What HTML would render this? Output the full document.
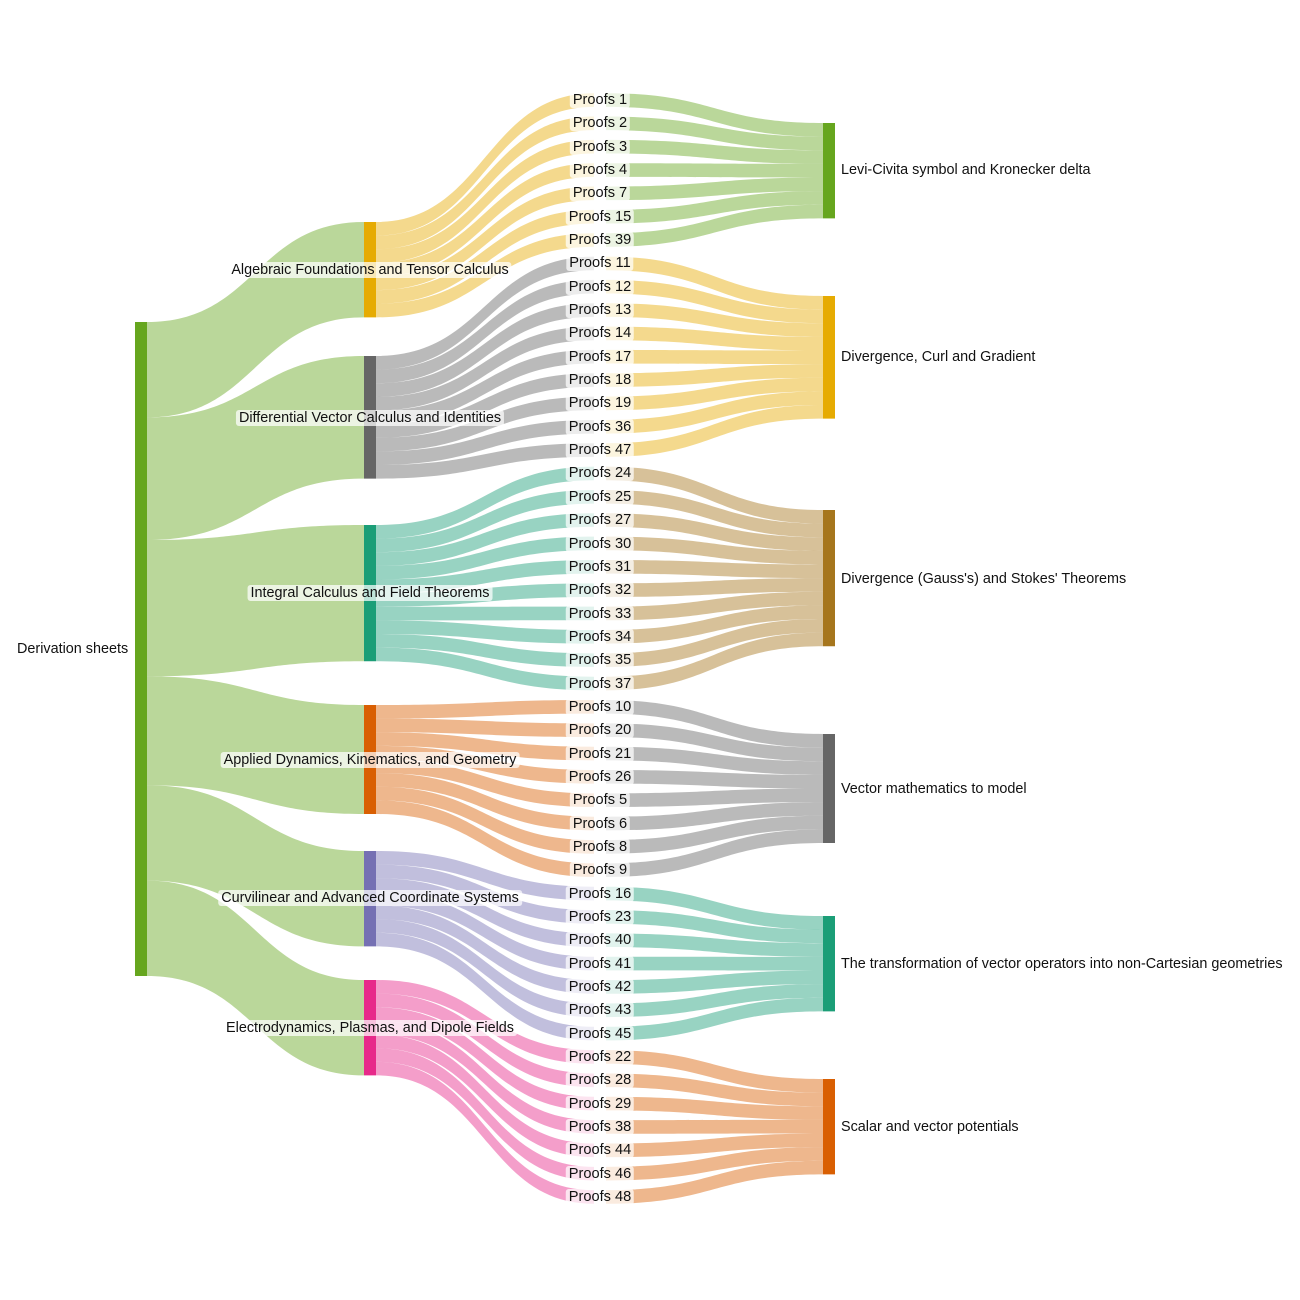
<!DOCTYPE html>
<html><head><meta charset="utf-8"><style>
body{margin:0;background:#fff;}
#w{position:relative;width:1300px;height:1300px;overflow:hidden;font-family:"Liberation Sans",Arial,sans-serif;font-size:14.4px;color:#111;}
svg{position:absolute;left:0;top:0;}
.l{position:absolute;white-space:nowrap;line-height:16px;padding:0px 3px;border-radius:3px;background:rgba(255,255,255,0.72);transform:translate(-50%,-50%);}
.r{position:absolute;white-space:nowrap;line-height:16px;transform:translateY(-50%);}
#p .l{font-size:14.6px;}
</style></head><body><div id="w">
<svg id="s" width="1300" height="1300" viewBox="0 0 1300 1300"></svg>
<div class="r" style="left:17px;top:649px">Derivation sheets</div>
<div class="l" style="left:370px;top:270px">Algebraic Foundations and Tensor Calculus</div>
<div class="l" style="left:370px;top:418px">Differential Vector Calculus and Identities</div>
<div class="l" style="left:370px;top:593px">Integral Calculus and Field Theorems</div>
<div class="l" style="left:370px;top:760px">Applied Dynamics, Kinematics, and Geometry</div>
<div class="l" style="left:370px;top:898px">Curvilinear and Advanced Coordinate Systems</div>
<div class="l" style="left:370px;top:1028px">Electrodynamics, Plasmas, and Dipole Fields</div>
<div class="r" style="left:841px;top:170px">Levi-Civita symbol and Kronecker delta</div>
<div class="r" style="left:841px;top:357px">Divergence, Curl and Gradient</div>
<div class="r" style="left:841px;top:579px">Divergence (Gauss's) and Stokes' Theorems</div>
<div class="r" style="left:841px;top:789px">Vector mathematics to model</div>
<div class="r" style="left:841px;top:964px">The transformation of vector operators into non-Cartesian geometries</div>
<div class="r" style="left:841px;top:1127px">Scalar and vector potentials</div>
<div id="p">
<div class="l" style="left:600px;top:100px">Proofs 1</div>
<div class="l" style="left:600px;top:123.3px">Proofs 2</div>
<div class="l" style="left:600px;top:146.7px">Proofs 3</div>
<div class="l" style="left:600px;top:170px">Proofs 4</div>
<div class="l" style="left:600px;top:193.4px">Proofs 7</div>
<div class="l" style="left:600px;top:216.7px">Proofs 15</div>
<div class="l" style="left:600px;top:240px">Proofs 39</div>
<div class="l" style="left:600px;top:263.4px">Proofs 11</div>
<div class="l" style="left:600px;top:286.7px">Proofs 12</div>
<div class="l" style="left:600px;top:310px">Proofs 13</div>
<div class="l" style="left:600px;top:333.4px">Proofs 14</div>
<div class="l" style="left:600px;top:356.7px">Proofs 17</div>
<div class="l" style="left:600px;top:380.1px">Proofs 18</div>
<div class="l" style="left:600px;top:403.4px">Proofs 19</div>
<div class="l" style="left:600px;top:426.8px">Proofs 36</div>
<div class="l" style="left:600px;top:450.1px">Proofs 47</div>
<div class="l" style="left:600px;top:473.4px">Proofs 24</div>
<div class="l" style="left:600px;top:496.8px">Proofs 25</div>
<div class="l" style="left:600px;top:520.1px">Proofs 27</div>
<div class="l" style="left:600px;top:543.5px">Proofs 30</div>
<div class="l" style="left:600px;top:566.8px">Proofs 31</div>
<div class="l" style="left:600px;top:590.1px">Proofs 32</div>
<div class="l" style="left:600px;top:613.5px">Proofs 33</div>
<div class="l" style="left:600px;top:636.8px">Proofs 34</div>
<div class="l" style="left:600px;top:660.2px">Proofs 35</div>
<div class="l" style="left:600px;top:683.5px">Proofs 37</div>
<div class="l" style="left:600px;top:706.8px">Proofs 10</div>
<div class="l" style="left:600px;top:730.2px">Proofs 20</div>
<div class="l" style="left:600px;top:753.5px">Proofs 21</div>
<div class="l" style="left:600px;top:776.9px">Proofs 26</div>
<div class="l" style="left:600px;top:800.2px">Proofs 5</div>
<div class="l" style="left:600px;top:823.5px">Proofs 6</div>
<div class="l" style="left:600px;top:846.9px">Proofs 8</div>
<div class="l" style="left:600px;top:870.2px">Proofs 9</div>
<div class="l" style="left:600px;top:893.6px">Proofs 16</div>
<div class="l" style="left:600px;top:916.9px">Proofs 23</div>
<div class="l" style="left:600px;top:940.2px">Proofs 40</div>
<div class="l" style="left:600px;top:963.6px">Proofs 41</div>
<div class="l" style="left:600px;top:986.9px">Proofs 42</div>
<div class="l" style="left:600px;top:1010.3px">Proofs 43</div>
<div class="l" style="left:600px;top:1033.6px">Proofs 45</div>
<div class="l" style="left:600px;top:1057px">Proofs 22</div>
<div class="l" style="left:600px;top:1080.3px">Proofs 28</div>
<div class="l" style="left:600px;top:1103.6px">Proofs 29</div>
<div class="l" style="left:600px;top:1127px">Proofs 38</div>
<div class="l" style="left:600px;top:1150.3px">Proofs 44</div>
<div class="l" style="left:600px;top:1173.7px">Proofs 46</div>
<div class="l" style="left:600px;top:1197px">Proofs 48</div>
</div>
</div>
<script>
var s=document.getElementById('s'),h='';
var u=13.625;
function rib(x0,s0,s1,x1,t0,t1,c,o){var xm=(x0+x1)/2;
h+='<path d="M'+x0+','+s0+' C'+xm+','+s0+' '+xm+','+t0+' '+x1+','+t0+' L'+x1+','+t1+' C'+xm+','+t1+' '+xm+','+s1+' '+x0+','+s1+' Z" fill="'+c+'" fill-opacity="'+o+'"/>';}
var t2=[222,356,525,705,851,980],n=[7,9,10,8,7,7];
var c2=['#e6ab02','#666666','#1b9e77','#d95f02','#7570b3','#e7298a'];
var t4=[123,296,510,734,916,1079];
var c4=['#66a61e','#e6ab02','#a6761d','#666666','#1b9e77','#d95f02'];
var y=322,k=0;
for(var g=0;g<6;g++){
 rib(147,y,y+n[g]*u,364,t2[g],t2[g]+n[g]*u,'#66a61e',0.45);y+=n[g]*u;
 for(var i=0;i<n[g];i++){var yc=100+k*23.34;
  rib(376,t2[g]+i*u,t2[g]+(i+1)*u,594,yc-u/2,yc+u/2,c2[g],0.45);
  rib(606,yc-u/2,yc+u/2,823,t4[g]+i*u,t4[g]+(i+1)*u,c4[g],0.45);
  k++;}
}
h+='<rect x="135" y="322" width="12" height="654" fill="#66a61e"/>';
for(g=0;g<6;g++){h+='<rect x="364" y="'+t2[g]+'" width="12" height="'+(n[g]*u)+'" fill="'+c2[g]+'"/>';
h+='<rect x="823" y="'+t4[g]+'" width="12" height="'+(n[g]*u)+'" fill="'+c4[g]+'"/>';}
s.innerHTML=h;
</script>
</body></html>
